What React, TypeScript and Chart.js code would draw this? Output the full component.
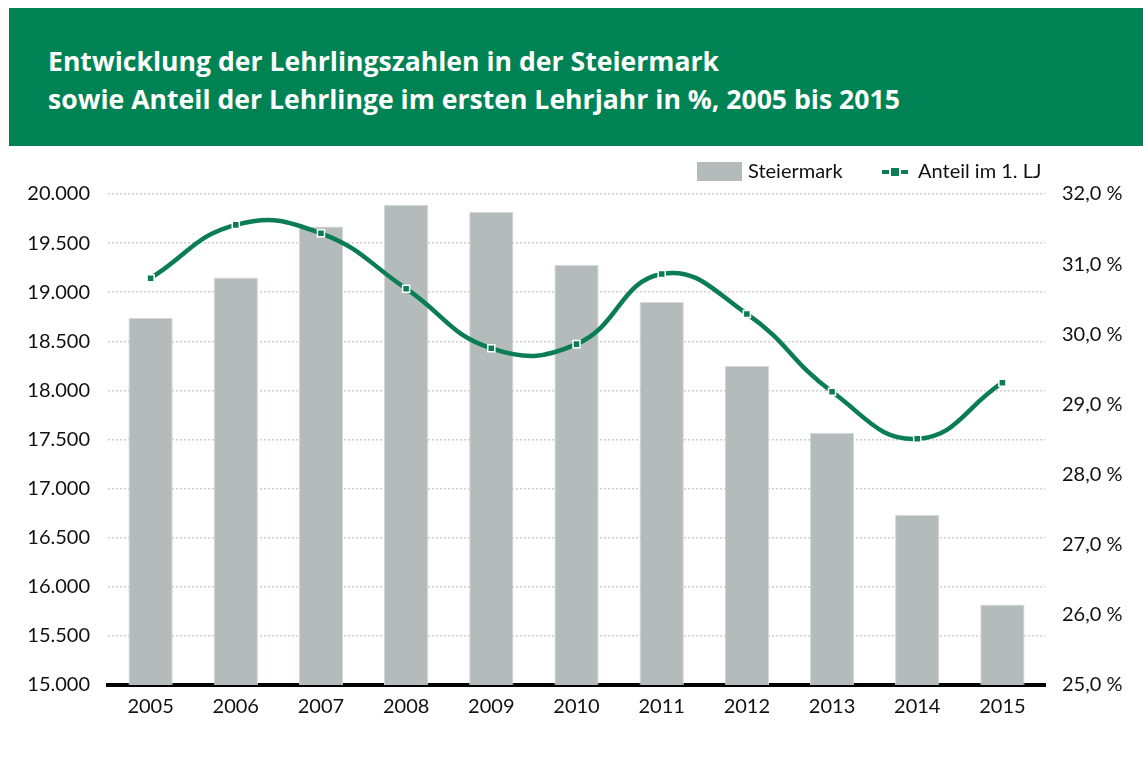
import React, { useEffect, useRef } from "react";
import { Chart, registerables } from "chart.js";

Chart.register(...registerables);

const years = ["2005", "2006", "2007", "2008", "2009", "2010", "2011", "2012", "2013", "2014", "2015"];
const steiermark = [18740, 19150, 19670, 19890, 19820, 19280, 18900, 18250, 17570, 16730, 15820];
const anteil = [30.8, 31.56, 31.44, 30.65, 29.8, 29.86, 30.86, 30.29, 29.18, 28.51, 29.31];
const titleLines = [
  "Entwicklung der Lehrlingszahlen in der Steiermark",
  "sowie Anteil der Lehrlinge im ersten Lehrjahr in %, 2005 bis 2015",
];
const legendBar = "Steiermark";
const legendLine = "Anteil im 1. LJ";

const GREEN = "#0a7d55";
const BAR = "#b3bbbb";
const FONT = "Lato, 'Open Sans', sans-serif";
const TITLE_FONT = "'Open Sans', Lato, sans-serif";

const legendPlugin = {
  id: "customLegend",
  afterDraw(chart: any) {
    const ctx = chart.ctx;
    ctx.save();
    ctx.fillStyle = BAR;
    ctx.fillRect(697, 16, 45, 19);
    ctx.fillStyle = "#111";
    ctx.font = "20px " + FONT;
    ctx.textBaseline = "middle";
    ctx.textAlign = "left";
    ctx.fillText(legendBar, 748, 26);
    ctx.strokeStyle = GREEN;
    ctx.lineWidth = 4;
    ctx.beginPath();
    ctx.moveTo(882, 26);
    ctx.lineTo(889, 26);
    ctx.moveTo(901, 26);
    ctx.lineTo(908, 26);
    ctx.stroke();
    ctx.fillStyle = GREEN;
    ctx.fillRect(891, 22, 8, 8);
    ctx.fillStyle = "#111";
    ctx.fillText(legendLine, 918, 26);
    ctx.restore();
  },
};

export default function App() {
  const ref = useRef<HTMLCanvasElement>(null);
  useEffect(() => {
    if (!ref.current) return;
    const chart = new Chart(ref.current, {
      type: "bar",
      data: {
        labels: years,
        datasets: [
          {
            type: "line",
            label: legendLine,
            data: anteil,
            yAxisID: "y1",
            borderColor: GREEN,
            borderWidth: 4.5,
            tension: 0.45,
            pointStyle: "rect",
            pointRadius: 5,
            pointBackgroundColor: GREEN,
            pointBorderColor: "#ffffff",
            pointBorderWidth: 1.5,
            order: 0,
          } as any,
          {
            type: "bar",
            label: legendBar,
            data: steiermark,
            yAxisID: "y",
            backgroundColor: BAR,
            borderColor: "#d3d8d8",
            borderWidth: 1,
            categoryPercentage: 1,
            barPercentage: 0.52,
            order: 1,
          },
        ],
      },
      options: {
        responsive: false,
        animation: false,
        devicePixelRatio: 1,
        layout: { padding: { top: 48, left: 0, right: 0, bottom: 0 } },
        plugins: {
          legend: { display: false },
          tooltip: { enabled: false },
          title: { display: false },
        },
        scales: {
          x: {
            z: 1,
            grid: { color: "rgba(0,0,0,0)", drawTicks: false },
            border: { display: true, color: "#000", width: 4 },
            ticks: { color: "#111", font: { family: FONT, size: 20 }, padding: 10 },
            afterFit(scale: any) {
              scale.height = 77;
            },
          },
          y: {
            position: "left",
            min: 15000,
            max: 20000,
            grid: { color: "#cfcfcf", lineWidth: 1.5, drawTicks: false },
            border: { display: false, dash: [2, 2] },
            ticks: {
              stepSize: 500,
              color: "#111",
              padding: 18,
              font: { family: FONT, size: 20 },
              callback: (v: any) => Number(v).toLocaleString("de-DE"),
            },
            afterFit(scale: any) {
              scale.width = 108;
            },
          },
          y1: {
            position: "right",
            min: 25,
            max: 32,
            grid: { display: false, drawTicks: false },
            border: { display: false },
            ticks: {
              stepSize: 1,
              color: "#111",
              padding: 17,
              font: { family: FONT, size: 20 },
              callback: (v: any) => Number(v).toFixed(1).replace(".", ",") + " %",
            },
            afterFit(scale: any) {
              scale.width = 98;
            },
          },
        },
      },
      plugins: [legendPlugin],
    });
    return () => chart.destroy();
  }, []);

  return (
    <div style={{ position: "absolute", left: 0, top: 0, width: 1143, height: 762, background: "#fff", overflow: "hidden" }}>
      <div
        style={{
          position: "absolute",
          left: 9,
          top: 8,
          width: 1134,
          height: 138,
          background: "#008354",
          color: "#fff",
          fontFamily: TITLE_FONT,
          fontWeight: 700,
          fontSize: 26.6,
          lineHeight: "38px",
          boxSizing: "border-box",
          paddingLeft: 39,
          paddingTop: 34,
          whiteSpace: "nowrap",
        }}
      >
        {titleLines.map((t, i) => (
          <div key={i}>{t}</div>
        ))}
      </div>
      <canvas ref={ref} width={1143} height={616} style={{ position: "absolute", left: 0, top: 146, width: 1143, height: 616 }} />
    </div>
  );
}
